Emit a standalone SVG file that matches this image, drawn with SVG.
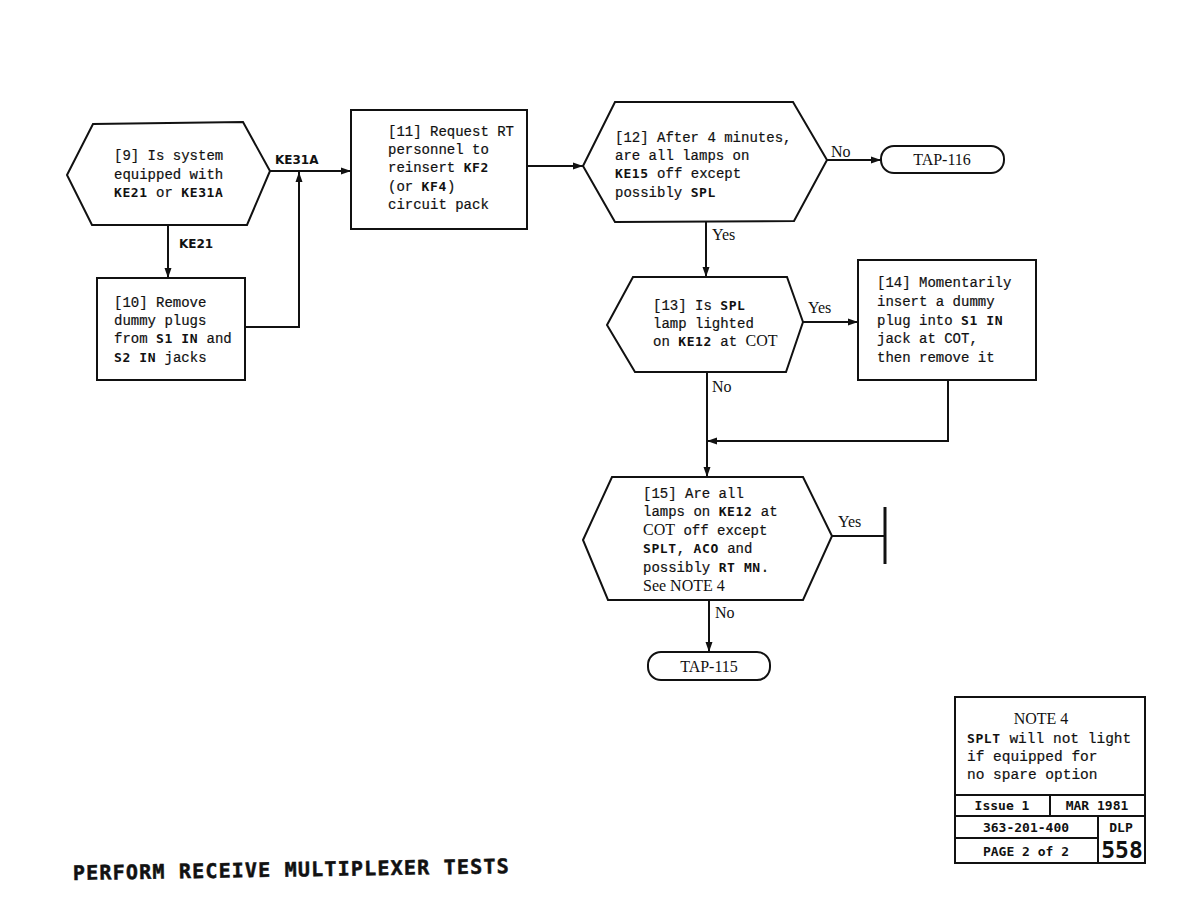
<svg xmlns="http://www.w3.org/2000/svg" width="1188" height="918" viewBox="0 0 1188 918">
<style>
.s{fill:none;stroke:#111;stroke-width:2}
.t{font-family:"Liberation Mono",monospace;font-size:14px;fill:#111;stroke:#111;stroke-width:0.2}
.b{font-family:"DejaVu Sans Mono",monospace;font-weight:bold;font-size:13px;letter-spacing:0.6px;stroke-width:0}
.r{font-family:"Liberation Serif",serif;font-size:16px;fill:#111}
.lb{font-family:"DejaVu Sans",sans-serif;font-weight:bold;font-size:12px;fill:#111}
.tb{font-family:"DejaVu Sans Mono",monospace;font-weight:bold;font-size:13px;fill:#111;text-anchor:middle}
</style>
<defs>
<marker id="ah" viewBox="0 0 10 8" refX="10" refY="4" markerWidth="10" markerHeight="8" orient="auto" markerUnits="userSpaceOnUse"><path d="M0,0.5 L10,4 L0,7.5 z" fill="#111"/></marker>
</defs>
<rect width="1188" height="918" fill="#fff"/>

<g id="connectors">
<path class="s" d="M168,225 V278" marker-end="url(#ah)"/>
<path class="s" d="M245,327 H299 V172" marker-end="url(#ah)"/>
<path class="s" d="M270,171 H351" marker-end="url(#ah)"/>
<path class="s" d="M527,166 H583" marker-end="url(#ah)"/>
<path class="s" d="M827,160 H881" marker-end="url(#ah)"/>
<path class="s" d="M706,222 V277" marker-end="url(#ah)"/>
<path class="s" d="M803,322 H858" marker-end="url(#ah)"/>
<path class="s" d="M707,372 V477" marker-end="url(#ah)"/>
<path class="s" d="M948,380 V441 H707" marker-end="url(#ah)"/>
<path class="s" d="M832,536 H885"/>
<path d="M885,507 V564" stroke="#111" stroke-width="3"/>
<path class="s" d="M709,600 V652" marker-end="url(#ah)"/>
<text class="lb" x="275" y="164">KE31A</text>
<text class="lb" x="179" y="248">KE21</text>
<text class="r" x="831" y="157">No</text>
<text class="r" x="712" y="240">Yes</text>
<text class="r" x="808" y="313">Yes</text>
<text class="r" x="712" y="392">No</text>
<text class="r" x="838" y="527">Yes</text>
<text class="r" x="715" y="618">No</text>
</g>

<g id="n9">
<polygon class="s" points="67,175 93,124 243,122 270,171 247,225 92,225"/>
<text class="t" x="114" y="160">[9] Is system</text>
<text class="t" x="114" y="179">equipped with</text>
<text class="t" x="114" y="197"><tspan class="b">KE21</tspan> or <tspan class="b">KE31A</tspan></text>
</g>

<g id="n10">
<rect class="s" x="97" y="278" width="148" height="102"/>
<text class="t" x="114" y="307">[10] Remove</text>
<text class="t" x="114" y="325">dummy plugs</text>
<text class="t" x="114" y="343">from <tspan class="b">S1 IN</tspan> and</text>
<text class="t" x="114" y="362"><tspan class="b">S2 IN</tspan> jacks</text>
</g>

<g id="n11">
<rect class="s" x="351" y="110" width="176" height="119"/>
<text class="t" x="388" y="136">[11] Request RT</text>
<text class="t" x="388" y="154">personnel to</text>
<text class="t" x="388" y="172">reinsert <tspan class="b">KF2</tspan></text>
<text class="t" x="388" y="191">(or <tspan class="b">KF4</tspan>)</text>
<text class="t" x="388" y="209">circuit pack</text>
</g>

<g id="n12">
<polygon class="s" points="583,166 615,102 793,102 827,160 794,221 615,222"/>
<text class="t" x="615" y="142">[12] After 4 minutes,</text>
<text class="t" x="615" y="160">are all lamps on</text>
<text class="t" x="615" y="178"><tspan class="b">KE15</tspan> off except</text>
<text class="t" x="615" y="197">possibly <tspan class="b">SPL</tspan></text>
</g>

<g id="tap116">
<rect class="s" x="881" y="146" width="123" height="27" rx="13" ry="13"/>
<text class="r" x="942" y="165" text-anchor="middle">TAP-116</text>
</g>

<g id="n13">
<polygon class="s" points="607,325 633,277 787,277 803,322 786,372 635,372"/>
<text class="t" x="653" y="310">[13] Is <tspan class="b">SPL</tspan></text>
<text class="t" x="653" y="328">lamp lighted</text>
<text class="t" x="653" y="346">on <tspan class="b">KE12</tspan> at <tspan class="r" style="stroke-width:0">COT</tspan></text>
</g>

<g id="n14">
<rect class="s" x="858" y="260" width="178" height="120"/>
<text class="t" x="877" y="287">[14] Momentarily</text>
<text class="t" x="877" y="306">insert a dummy</text>
<text class="t" x="877" y="325">plug into <tspan class="b">S1 IN</tspan></text>
<text class="t" x="877" y="343">jack at COT,</text>
<text class="t" x="877" y="362">then remove it</text>
</g>

<g id="n15">
<polygon class="s" points="583,540 612,477 803,477 832,536 803,600 608,600"/>
<text class="t" x="643" y="498">[15] Are all</text>
<text class="t" x="643" y="516">lamps on <tspan class="b">KE12</tspan> at</text>
<text class="t" x="643" y="535"><tspan class="r" style="stroke-width:0">COT</tspan> off except</text>
<text class="t" x="643" y="553"><tspan class="b">SPLT</tspan>, <tspan class="b">ACO</tspan> and</text>
<text class="t" x="643" y="572">possibly <tspan class="b">RT MN</tspan>.</text>
<text class="t" x="643" y="591"><tspan class="r" style="stroke-width:0">See NOTE 4</tspan></text>
</g>

<g id="tap115">
<rect class="s" x="648" y="652" width="122" height="28" rx="13" ry="13"/>
<text class="r" x="709" y="672" text-anchor="middle">TAP-115</text>
</g>

<g id="note">
<rect class="s" x="955" y="697" width="190" height="166"/>
<path class="s" d="M955,795 H1145 M955,816 H1145 M955,838 H1098 M1050,795 V816 M1098,816 V863"/>
<text class="r" x="1041" y="724" text-anchor="middle">NOTE 4</text>
<text class="t" x="967" y="743" style="font-size:14.5px"><tspan class="b">SPLT</tspan> will not light</text>
<text class="t" x="967" y="761" style="font-size:14.5px">if equipped for</text>
<text class="t" x="967" y="779" style="font-size:14.5px">no spare option</text>
<text class="tb" x="1002" y="810">Issue 1</text>
<text class="tb" x="1097" y="810">MAR 1981</text>
<text class="tb" x="1026" y="832">363-201-400</text>
<text class="tb" x="1121" y="832">DLP</text>
<text class="tb" x="1026" y="856">PAGE 2 of 2</text>
<text class="tb" x="1122" y="858" style="font-size:23px">558</text>
</g>

<text x="73" y="880" transform="rotate(-0.9 73 880)" font-family="DejaVu Sans Mono, monospace" font-weight="bold" font-size="20" letter-spacing="1.2" fill="#111" stroke="#111" stroke-width="0.5">PERFORM RECEIVE MULTIPLEXER TESTS</text>
</svg>
